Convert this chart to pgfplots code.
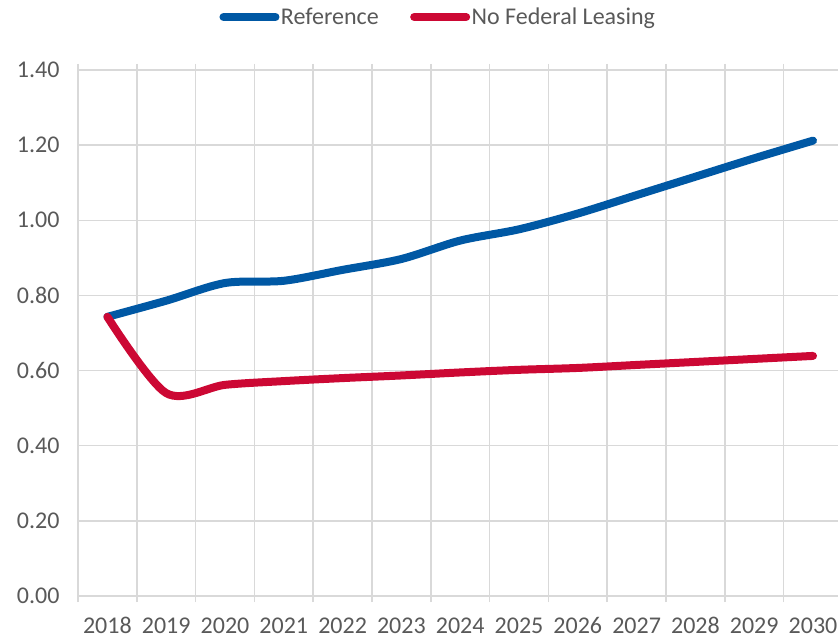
\documentclass[border=0pt]{standalone}
\usepackage{fontspec}
\setmainfont{Carlito}
\usepackage{pgfplots}
\pgfplotsset{compat=1.18}
\definecolor{refblue}{RGB}{0,88,164}
\definecolor{nflred}{RGB}{204,8,52}
\definecolor{gridgrey}{RGB}{217,217,217}
\definecolor{txtgrey}{RGB}{89,89,89}
\begin{document}
\begin{tikzpicture}
\begin{axis}[
  at={(78pt,42pt)}, anchor=south west,
  scale only axis, width=760pt, height=526pt,
  xmin=-0.5, xmax=12.425, ymin=0, ymax=1.4,
  axis line style={draw=none},
  xtick={-0.5,0.5,1.5,2.5,3.5,4.5,5.5,6.5,7.5,8.5,9.5,10.5,11.5},
  xticklabels={},
  extra x ticks={0,1,2,3,4,5,6,7,8,9,10,11,12},
  extra x tick labels={2018,2019,2020,2021,2022,2023,2024,2025,2026,2027,2028,2029,2030},
  extra x tick style={grid=none, major tick length=0pt, tick label style={yshift=-18pt, text depth=0pt}},
  ytick={0,0.2,0.4,0.6,0.8,1.0,1.2,1.4},
  yticklabel style={/pgf/number format/fixed, /pgf/number format/fixed zerofill, /pgf/number format/precision=2, /pgf/number format/assume math mode=true, xshift=-9pt},
  xmajorgrids, ymajorgrids,
  grid style={gridgrey, line width=1.5pt},
  tick align=outside, major tick length=6pt,
  xtick style={gridgrey, line width=1.5pt},
  ytick style={draw=none},
  tick label style={font=\fontsize{24}{28}\selectfont, text=txtgrey},
  legend columns=2,
  legend style={at={(axis description cs:0.4737,1.1008)}, anchor=center, draw=none, fill=none,
    font=\fontsize{24}{28}\selectfont, text=txtgrey, inner sep=0pt,
    nodes={inner sep=1.5pt},
    /tikz/every even column/.append style={column sep=30pt}},
  legend image code/.code={\draw[line width=8pt, line cap=round] (0pt,0pt) -- (52pt,0pt);},
]
\addplot[refblue, line width=8pt, line cap=round, smooth] coordinates {
(0,0.743) (1,0.786) (2,0.833) (3,0.839) (4,0.868) (5,0.897) (6,0.946) (7,0.976) (8,1.018) (9,1.067) (10,1.116) (11,1.165) (12,1.212)};
\addlegendentry{Reference}
\addplot[nflred, line width=8pt, line cap=round, smooth] coordinates {
(0,0.743) (1,0.540) (2,0.562) (3,0.572) (4,0.580) (5,0.587) (6,0.595) (7,0.602) (8,0.607) (9,0.615) (10,0.623) (11,0.631) (12,0.639)};
\addlegendentry{No Federal Leasing}
\end{axis}
\pgfresetboundingbox
\useasboundingbox (0,0) rectangle (838pt,638pt);
\end{tikzpicture}
\end{document}
